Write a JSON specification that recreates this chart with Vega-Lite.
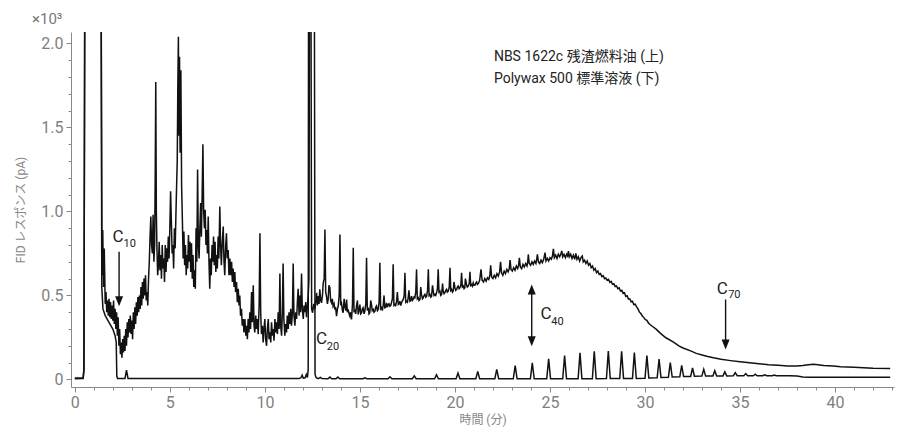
{
"$schema": "https://vega.github.io/schema/vega-lite/v6.json",
"width": 823, "height": 355,
"autosize": {"type": "none"},
"padding": {"left": 71, "top": 32, "right": 7, "bottom": 50},
"title": {"text": "×10³", "anchor": "start", "frame": "group", "dx": -39, "offset": 5, "fontSize": 15, "fontWeight": "normal", "color": "#777", "font": "Roboto"},
"config": {"view": {"stroke": null}, "font": "Roboto",
  "axis": {"domainColor": "#888", "tickColor": "#888", "labelColor": "#808080", "titleColor": "#888", "grid": false, "labelFont": "Roboto", "titleFont": "Roboto, Noto Sans CJK JP", "titleFontWeight": "normal", "labelOverlap": false, "labelFlush": false}},
"datasets": {
"upper": [
{"t":0,"v":0.008},{"t":0.44,"v":0.01},{"t":0.48,"v":0.06},{"t":0.53,"v":2.6},{"t":1.38,"v":2.6},{"t":1.43,"v":0.62},{"t":1.47,"v":0.89},{"t":1.51,"v":0.55},{"t":1.55,"v":0.78},{"t":1.6,"v":0.45},{"t":1.64,"v":0.52},{"t":1.68,"v":0.4},{"t":1.72,"v":0.47},{"t":1.76,"v":0.38},{"t":1.8,"v":0.48},{"t":1.84,"v":0.37},{"t":1.88,"v":0.46},{"t":1.92,"v":0.36},{"t":1.96,"v":0.44},{"t":2.0,"v":0.35},{"t":2.04,"v":0.47},{"t":2.08,"v":0.33},{"t":2.12,"v":0.42},{"t":2.16,"v":0.3},{"t":2.2,"v":0.4},{"t":2.24,"v":0.26},{"t":2.28,"v":0.37},{"t":2.32,"v":0.2},{"t":2.36,"v":0.3},{"t":2.4,"v":0.15},{"t":2.44,"v":0.22},{"t":2.48,"v":0.13},{"t":2.52,"v":0.24},{"t":2.56,"v":0.16},{"t":2.6,"v":0.26},{"t":2.64,"v":0.17},{"t":2.68,"v":0.3},{"t":2.72,"v":0.2},{"t":2.76,"v":0.34},{"t":2.8,"v":0.25},{"t":2.84,"v":0.36},{"t":2.88,"v":0.28},{"t":2.92,"v":0.38},{"t":2.96,"v":0.27},{"t":3.0,"v":0.35},{"t":3.04,"v":0.24},{"t":3.08,"v":0.4},{"t":3.12,"v":0.3},{"t":3.16,"v":0.43},{"t":3.2,"v":0.33},{"t":3.24,"v":0.46},{"t":3.28,"v":0.38},{"t":3.32,"v":0.49},{"t":3.36,"v":0.4},{"t":3.4,"v":0.5},{"t":3.44,"v":0.42},{"t":3.48,"v":0.55},{"t":3.52,"v":0.44},{"t":3.56,"v":0.58},{"t":3.6,"v":0.48},{"t":3.64,"v":0.6},{"t":3.68,"v":0.5},{"t":3.72,"v":0.62},{"t":3.76,"v":0.47},{"t":3.8,"v":0.52},{"t":3.84,"v":0.44},{"t":3.88,"v":0.6},{"t":3.92,"v":0.7},{"t":3.96,"v":0.85},{"t":4.0,"v":0.97},{"t":4.04,"v":0.8},{"t":4.08,"v":0.75},{"t":4.12,"v":0.98},{"t":4.16,"v":0.7},{"t":4.2,"v":0.8},{"t":4.23,"v":1.2},{"t":4.26,"v":1.77},{"t":4.29,"v":1.0},{"t":4.32,"v":0.79},{"t":4.36,"v":0.62},{"t":4.4,"v":0.68},{"t":4.44,"v":0.82},{"t":4.48,"v":0.65},{"t":4.52,"v":0.74},{"t":4.56,"v":0.6},{"t":4.6,"v":0.8},{"t":4.64,"v":0.66},{"t":4.68,"v":0.72},{"t":4.72,"v":0.58},{"t":4.76,"v":0.8},{"t":4.8,"v":0.64},{"t":4.84,"v":0.78},{"t":4.88,"v":0.7},{"t":4.92,"v":0.85},{"t":4.96,"v":0.72},{"t":5.0,"v":0.9},{"t":5.04,"v":1.12},{"t":5.08,"v":0.94},{"t":5.12,"v":0.75},{"t":5.16,"v":0.8},{"t":5.2,"v":0.66},{"t":5.24,"v":0.9},{"t":5.28,"v":0.78},{"t":5.32,"v":0.98},{"t":5.36,"v":1.17},{"t":5.39,"v":1.3},{"t":5.42,"v":1.74},{"t":5.45,"v":2.04},{"t":5.48,"v":1.45},{"t":5.51,"v":1.92},{"t":5.54,"v":1.35},{"t":5.58,"v":1.84},{"t":5.62,"v":1.15},{"t":5.66,"v":0.95},{"t":5.7,"v":0.72},{"t":5.74,"v":0.88},{"t":5.78,"v":0.68},{"t":5.82,"v":0.8},{"t":5.86,"v":0.62},{"t":5.9,"v":0.74},{"t":5.94,"v":0.66},{"t":5.98,"v":0.86},{"t":6.02,"v":0.7},{"t":6.06,"v":0.82},{"t":6.1,"v":0.64},{"t":6.14,"v":0.81},{"t":6.18,"v":0.6},{"t":6.22,"v":0.74},{"t":6.26,"v":0.55},{"t":6.3,"v":0.65},{"t":6.34,"v":0.54},{"t":6.38,"v":0.9},{"t":6.42,"v":0.7},{"t":6.46,"v":1.25},{"t":6.5,"v":0.8},{"t":6.54,"v":0.72},{"t":6.58,"v":0.9},{"t":6.62,"v":1.05},{"t":6.66,"v":0.85},{"t":6.7,"v":1.1},{"t":6.74,"v":1.4},{"t":6.78,"v":1.0},{"t":6.82,"v":0.9},{"t":6.86,"v":1.01},{"t":6.9,"v":0.8},{"t":6.94,"v":0.89},{"t":6.98,"v":0.75},{"t":7.02,"v":0.97},{"t":7.06,"v":0.7},{"t":7.1,"v":0.54},{"t":7.14,"v":0.72},{"t":7.18,"v":0.62},{"t":7.22,"v":0.8},{"t":7.26,"v":0.7},{"t":7.3,"v":0.85},{"t":7.34,"v":0.68},{"t":7.38,"v":0.82},{"t":7.42,"v":0.64},{"t":7.46,"v":0.74},{"t":7.5,"v":0.66},{"t":7.54,"v":0.85},{"t":7.58,"v":0.72},{"t":7.63,"v":1.03},{"t":7.67,"v":0.8},{"t":7.71,"v":0.68},{"t":7.76,"v":0.82},{"t":7.81,"v":0.91},{"t":7.85,"v":0.7},{"t":7.89,"v":0.62},{"t":7.94,"v":0.8},{"t":7.98,"v":0.87},{"t":8.02,"v":0.72},{"t":8.07,"v":0.77},{"t":8.11,"v":0.62},{"t":8.16,"v":0.72},{"t":8.2,"v":0.62},{"t":8.25,"v":0.7},{"t":8.29,"v":0.58},{"t":8.33,"v":0.66},{"t":8.38,"v":0.55},{"t":8.42,"v":0.64},{"t":8.46,"v":0.52},{"t":8.51,"v":0.58},{"t":8.55,"v":0.46},{"t":8.6,"v":0.54},{"t":8.64,"v":0.44},{"t":8.68,"v":0.5},{"t":8.72,"v":0.38},{"t":8.77,"v":0.42},{"t":8.81,"v":0.32},{"t":8.86,"v":0.36},{"t":8.9,"v":0.28},{"t":8.95,"v":0.36},{"t":9.0,"v":0.26},{"t":9.04,"v":0.32},{"t":9.08,"v":0.24},{"t":9.12,"v":0.36},{"t":9.16,"v":0.28},{"t":9.21,"v":0.4},{"t":9.25,"v":0.3},{"t":9.3,"v":0.52},{"t":9.34,"v":0.34},{"t":9.39,"v":0.56},{"t":9.43,"v":0.32},{"t":9.47,"v":0.28},{"t":9.52,"v":0.38},{"t":9.56,"v":0.3},{"t":9.6,"v":0.36},{"t":9.65,"v":0.27},{"t":9.7,"v":0.45},{"t":9.74,"v":0.87},{"t":9.78,"v":0.4},{"t":9.82,"v":0.27},{"t":9.87,"v":0.32},{"t":9.91,"v":0.22},{"t":9.95,"v":0.3},{"t":10.0,"v":0.36},{"t":10.04,"v":0.24},{"t":10.09,"v":0.2},{"t":10.13,"v":0.3},{"t":10.18,"v":0.36},{"t":10.22,"v":0.24},{"t":10.26,"v":0.28},{"t":10.31,"v":0.22},{"t":10.35,"v":0.34},{"t":10.4,"v":0.26},{"t":10.44,"v":0.3},{"t":10.48,"v":0.23},{"t":10.53,"v":0.36},{"t":10.57,"v":0.28},{"t":10.61,"v":0.34},{"t":10.66,"v":0.27},{"t":10.7,"v":0.4},{"t":10.75,"v":0.3},{"t":10.79,"v":0.63},{"t":10.83,"v":0.32},{"t":10.88,"v":0.26},{"t":10.92,"v":0.4},{"t":10.96,"v":0.69},{"t":11.0,"v":0.36},{"t":11.05,"v":0.26},{"t":11.09,"v":0.33},{"t":11.14,"v":0.28},{"t":11.18,"v":0.38},{"t":11.23,"v":0.3},{"t":11.27,"v":0.4},{"t":11.32,"v":0.33},{"t":11.36,"v":0.42},{"t":11.4,"v":0.32},{"t":11.45,"v":0.4},{"t":11.49,"v":0.69},{"t":11.53,"v":0.38},{"t":11.58,"v":0.32},{"t":11.62,"v":0.4},{"t":11.67,"v":0.36},{"t":11.71,"v":0.46},{"t":11.75,"v":0.54},{"t":11.8,"v":0.38},{"t":11.84,"v":0.5},{"t":11.88,"v":0.4},{"t":11.93,"v":0.63},{"t":11.97,"v":0.42},{"t":12.02,"v":0.36},{"t":12.06,"v":0.44},{"t":12.11,"v":0.4},{"t":12.15,"v":0.46},{"t":12.19,"v":0.37},{"t":12.24,"v":0.44},{"t":12.28,"v":0.5},{"t":12.32,"v":0.6},{"t":12.35,"v":2.6},{"t":12.42,"v":2.6},{"t":12.46,"v":0.42},{"t":12.51,"v":0.397},{"t":12.57,"v":0.45},{"t":12.63,"v":0.417},{"t":12.68,"v":0.47},{"t":12.72,"v":0.516},{"t":12.76,"v":0.44},{"t":12.8,"v":0.496},{"t":12.85,"v":0.45},{"t":12.89,"v":0.536},{"t":12.94,"v":0.47},{"t":12.98,"v":0.456},{"t":13.03,"v":0.5},{"t":13.07,"v":0.575},{"t":13.12,"v":0.6},{"t":13.16,"v":0.893},{"t":13.2,"v":0.52},{"t":13.24,"v":0.496},{"t":13.29,"v":0.45},{"t":13.33,"v":0.476},{"t":13.37,"v":0.56},{"t":13.42,"v":0.546},{"t":13.46,"v":0.47},{"t":13.51,"v":0.456},{"t":13.55,"v":0.48},{"t":13.59,"v":0.437},{"t":13.64,"v":0.45},{"t":13.68,"v":0.417},{"t":13.72,"v":0.43},{"t":13.77,"v":0.377},{"t":13.82,"v":0.42},{"t":13.86,"v":0.437},{"t":13.91,"v":0.5},{"t":13.95,"v":0.863},{"t":13.99,"v":0.45},{"t":14.03,"v":0.456},{"t":14.08,"v":0.41},{"t":14.12,"v":0.397},{"t":14.17,"v":0.48},{"t":14.21,"v":0.437},{"t":14.26,"v":0.41},{"t":14.3,"v":0.476},{"t":14.34,"v":0.4},{"t":14.38,"v":0.417},{"t":14.43,"v":0.39},{"t":14.47,"v":0.377},{"t":14.51,"v":0.4},{"t":14.56,"v":0.357},{"t":14.61,"v":0.45},{"t":14.65,"v":0.784},{"t":14.69,"v":0.4},{"t":14.73,"v":0.417},{"t":14.78,"v":0.39},{"t":14.82,"v":0.437},{"t":14.87,"v":0.47},{"t":14.91,"v":0.387},{"t":14.95,"v":0.41},{"t":15.0,"v":0.446},{"t":15.04,"v":0.39},{"t":15.09,"v":0.397},{"t":15.13,"v":0.42},{"t":15.17,"v":0.427},{"t":15.22,"v":0.39},{"t":15.26,"v":0.407},{"t":15.31,"v":0.45},{"t":15.35,"v":0.724},{"t":15.39,"v":0.41},{"t":15.44,"v":0.427},{"t":15.48,"v":0.39},{"t":15.52,"v":0.397},{"t":15.57,"v":0.47},{"t":15.61,"v":0.446},{"t":15.65,"v":0.41},{"t":15.7,"v":0.417},{"t":15.74,"v":0.4},{"t":15.79,"v":0.407},{"t":15.83,"v":0.43},{"t":15.87,"v":0.437},{"t":15.92,"v":0.41},{"t":15.96,"v":0.417},{"t":16.01,"v":0.46},{"t":16.05,"v":0.694},{"t":16.09,"v":0.42},{"t":16.14,"v":0.427},{"t":16.18,"v":0.41},{"t":16.23,"v":0.446},{"t":16.27,"v":0.5},{"t":16.31,"v":0.427},{"t":16.36,"v":0.43},{"t":16.4,"v":0.456},{"t":16.45,"v":0.43},{"t":16.49,"v":0.446},{"t":16.53,"v":0.45},{"t":16.58,"v":0.436},{"t":16.62,"v":0.44},{"t":16.66,"v":0.456},{"t":16.71,"v":0.48},{"t":16.75,"v":0.685},{"t":16.79,"v":0.44},{"t":16.84,"v":0.446},{"t":16.88,"v":0.44},{"t":16.93,"v":0.466},{"t":16.97,"v":0.52},{"t":17.02,"v":0.446},{"t":17.06,"v":0.45},{"t":17.1,"v":0.466},{"t":17.15,"v":0.44},{"t":17.19,"v":0.456},{"t":17.24,"v":0.47},{"t":17.28,"v":0.476},{"t":17.33,"v":0.5},{"t":17.37,"v":0.635},{"t":17.41,"v":0.46},{"t":17.45,"v":0.466},{"t":17.5,"v":0.46},{"t":17.54,"v":0.486},{"t":17.58,"v":0.53},{"t":17.63,"v":0.466},{"t":17.67,"v":0.47},{"t":17.72,"v":0.496},{"t":17.76,"v":0.47},{"t":17.8,"v":0.476},{"t":17.85,"v":0.49},{"t":17.89,"v":0.486},{"t":17.94,"v":0.52},{"t":17.98,"v":0.655},{"t":18.02,"v":0.48},{"t":18.07,"v":0.486},{"t":18.11,"v":0.47},{"t":18.16,"v":0.476},{"t":18.2,"v":0.55},{"t":18.24,"v":0.506},{"t":18.29,"v":0.48},{"t":18.33,"v":0.486},{"t":18.38,"v":0.5},{"t":18.42,"v":0.506},{"t":18.47,"v":0.49},{"t":18.51,"v":0.496},{"t":18.56,"v":0.53},{"t":18.6,"v":0.655},{"t":18.64,"v":0.5},{"t":18.68,"v":0.506},{"t":18.73,"v":0.49},{"t":18.77,"v":0.496},{"t":18.82,"v":0.56},{"t":18.86,"v":0.526},{"t":18.9,"v":0.5},{"t":18.95,"v":0.506},{"t":18.99,"v":0.5},{"t":19.03,"v":0.516},{"t":19.08,"v":0.54},{"t":19.12,"v":0.655},{"t":19.16,"v":0.52},{"t":19.21,"v":0.526},{"t":19.25,"v":0.5},{"t":19.3,"v":0.506},{"t":19.35,"v":0.57},{"t":19.38,"v":0.526},{"t":19.43,"v":0.51},{"t":19.47,"v":0.516},{"t":19.52,"v":0.53},{"t":19.56,"v":0.536},{"t":19.6,"v":0.52},{"t":19.65,"v":0.526},{"t":19.7,"v":0.55},{"t":19.74,"v":0.665},{"t":19.78,"v":0.53},{"t":19.82,"v":0.536},{"t":19.87,"v":0.52},{"t":19.91,"v":0.526},{"t":19.95,"v":0.58},{"t":20.0,"v":0.546},{"t":20.04,"v":0.53},{"t":20.09,"v":0.536},{"t":20.13,"v":0.55},{"t":20.17,"v":0.556},{"t":20.22,"v":0.54},{"t":20.26,"v":0.546},{"t":20.31,"v":0.56},{"t":20.35,"v":0.635},{"t":20.39,"v":0.55},{"t":20.44,"v":0.556},{"t":20.48,"v":0.54},{"t":20.52,"v":0.546},{"t":20.55,"v":0.6},{"t":20.61,"v":0.565},{"t":20.65,"v":0.55},{"t":20.7,"v":0.556},{"t":20.75,"v":0.57},{"t":20.79,"v":0.64},{"t":20.83,"v":0.56},{"t":20.87,"v":0.565},{"t":20.92,"v":0.555},{"t":20.96,"v":0.575},{"t":21.0,"v":0.56},{"t":21.05,"v":0.56},{"t":21.1,"v":0.575},{"t":21.14,"v":0.58},{"t":21.18,"v":0.565},{"t":21.23,"v":0.57},
{"t":21.3,"v":0.59},{"t":21.37,"v":0.655},{"t":21.43,"v":0.59},{"t":21.5,"v":0.58},{"t":21.57,"v":0.6},{"t":21.64,"v":0.585},{"t":21.71,"v":0.605},{"t":21.78,"v":0.595},{"t":21.84,"v":0.62},{"t":21.88,"v":0.68},{"t":21.93,"v":0.61},{"t":22.0,"v":0.6},{"t":22.07,"v":0.62},{"t":22.14,"v":0.605},{"t":22.21,"v":0.63},{"t":22.28,"v":0.615},{"t":22.35,"v":0.64},{"t":22.4,"v":0.7},{"t":22.45,"v":0.635},{"t":22.52,"v":0.62},{"t":22.59,"v":0.645},{"t":22.66,"v":0.63},{"t":22.73,"v":0.655},{"t":22.8,"v":0.64},{"t":22.86,"v":0.66},{"t":22.9,"v":0.71},{"t":22.95,"v":0.655},{"t":23.02,"v":0.645},{"t":23.09,"v":0.665},{"t":23.16,"v":0.65},{"t":23.23,"v":0.675},{"t":23.3,"v":0.66},{"t":23.35,"v":0.68},{"t":23.39,"v":0.724},{"t":23.44,"v":0.67},{"t":23.51,"v":0.66},{"t":23.58,"v":0.685},{"t":23.65,"v":0.67},{"t":23.72,"v":0.69},{"t":23.79,"v":0.675},{"t":23.83,"v":0.7},{"t":23.86,"v":0.744},{"t":23.91,"v":0.69},{"t":23.98,"v":0.68},{"t":24.05,"v":0.7},{"t":24.12,"v":0.685},{"t":24.19,"v":0.705},{"t":24.26,"v":0.69},{"t":24.3,"v":0.715},{"t":24.34,"v":0.745},{"t":24.39,"v":0.7},{"t":24.46,"v":0.69},{"t":24.53,"v":0.71},{"t":24.6,"v":0.695},{"t":24.67,"v":0.715},{"t":24.74,"v":0.755},{"t":24.79,"v":0.705},{"t":24.86,"v":0.72},{"t":24.93,"v":0.705},{"t":25.0,"v":0.725},{"t":25.07,"v":0.715},{"t":25.13,"v":0.735},{"t":25.18,"v":0.777},{"t":25.23,"v":0.725},{"t":25.3,"v":0.74},{"t":25.37,"v":0.72},{"t":25.44,"v":0.745},{"t":25.51,"v":0.73},{"t":25.58,"v":0.75},{"t":25.62,"v":0.765},{"t":25.67,"v":0.73},{"t":25.74,"v":0.745},{"t":25.81,"v":0.725},{"t":25.88,"v":0.745},{"t":25.93,"v":0.735},{"t":25.97,"v":0.764},{"t":26.02,"v":0.73},{"t":26.09,"v":0.745},{"t":26.16,"v":0.72},{"t":26.23,"v":0.74},{"t":26.3,"v":0.715},{"t":26.36,"v":0.75},{"t":26.42,"v":0.715},{"t":26.49,"v":0.73},{"t":26.56,"v":0.705},{"t":26.63,"v":0.725},{"t":26.7,"v":0.735},{"t":26.75,"v":0.7},{"t":26.82,"v":0.71},{"t":26.89,"v":0.69},{"t":26.96,"v":0.705},{"t":27.03,"v":0.68},{"t":27.1,"v":0.69},{"t":27.17,"v":0.665},{"t":27.24,"v":0.675},{"t":27.31,"v":0.65},{"t":27.38,"v":0.66},{"t":27.45,"v":0.635},{"t":27.52,"v":0.645},{"t":27.59,"v":0.625},{"t":27.66,"v":0.63},{"t":27.73,"v":0.612},{"t":27.8,"v":0.618},{"t":27.87,"v":0.6},{"t":27.94,"v":0.604},
{"t":28.01,"v":0.59},{"t":28.08,"v":0.596},{"t":28.15,"v":0.578},{"t":28.22,"v":0.584},{"t":28.29,"v":0.566},{"t":28.36,"v":0.57},{"t":28.43,"v":0.553},{"t":28.5,"v":0.556},{"t":28.57,"v":0.54},{"t":28.64,"v":0.545},{"t":28.71,"v":0.526},{"t":28.78,"v":0.53},{"t":28.85,"v":0.512},{"t":28.92,"v":0.516},{"t":28.99,"v":0.494},{"t":29.06,"v":0.498},{"t":29.13,"v":0.478},{"t":29.2,"v":0.48},{"t":29.27,"v":0.462},{"t":29.34,"v":0.465},{"t":29.41,"v":0.446},{"t":29.48,"v":0.448},{"t":29.56,"v":0.432},{"t":29.63,"v":0.42},{"t":29.7,"v":0.402},{"t":29.78,"v":0.392},{"t":29.86,"v":0.378},{"t":29.94,"v":0.368},{"t":30.02,"v":0.356},{"t":30.1,"v":0.352},{"t":30.18,"v":0.336},{"t":30.26,"v":0.327},{"t":30.4,"v":0.315},{"t":30.6,"v":0.298},{"t":30.8,"v":0.276},{"t":31.1,"v":0.248},{"t":31.5,"v":0.222},{"t":31.8,"v":0.198},{"t":32.0,"v":0.187},{"t":32.4,"v":0.17},{"t":32.7,"v":0.155},{"t":33.0,"v":0.146},{"t":33.3,"v":0.137},{"t":33.6,"v":0.129},{"t":34.0,"v":0.12},{"t":34.5,"v":0.112},{"t":35.0,"v":0.105},{"t":35.5,"v":0.099},{"t":36.0,"v":0.094},{"t":36.5,"v":0.088},{"t":37.0,"v":0.084},{"t":37.5,"v":0.08},{"t":38.0,"v":0.08},{"t":38.3,"v":0.083},{"t":38.6,"v":0.088},{"t":38.86,"v":0.091},{"t":39.1,"v":0.088},{"t":39.4,"v":0.083},{"t":39.9,"v":0.08},{"t":40.3,"v":0.076},{"t":41.0,"v":0.072},{"t":41.5,"v":0.07},{"t":42.0,"v":0.067},{"t":42.9,"v":0.065}
],
"lower": [
{"t":0,"v":0.004},{"t":0.44,"v":0.006},{"t":0.48,"v":0.06},{"t":0.53,"v":2.6},{"t":1.38,"v":2.6},{"t":1.42,"v":0.55},{"t":1.48,"v":0.42},{"t":1.6,"v":0.38},{"t":1.8,"v":0.34},{"t":2.0,"v":0.3},{"t":2.12,"v":0.26},{"t":2.18,"v":0.22},{"t":2.21,"v":0.02},{"t":2.25,"v":0.005},{"t":2.64,"v":0.005},{"t":2.72,"v":0.055},{"t":2.8,"v":0.005},{"t":11.8,"v":0.005},{"t":11.9,"v":0.01},{"t":11.96,"v":0.025},{"t":12.02,"v":0.008},{"t":12.12,"v":0.01},{"t":12.18,"v":0.03},{"t":12.24,"v":0.012},{"t":12.28,"v":0.06},{"t":12.3,"v":2.6},{"t":12.6,"v":2.6},{"t":12.64,"v":0.03},{"t":12.7,"v":0.01},{"t":12.8,"v":0.005},{"t":12.92,"v":0.012},{"t":13.0,"v":0.005},{"t":13.32,"v":0.004},{"t":13.42,"v":0.014},{"t":13.52,"v":0.004},{"t":13.74,"v":0.004},{"t":13.84,"v":0.014},{"t":13.94,"v":0.004},{"t":15.16,"v":0.004},{"t":15.26,"v":0.01},{"t":15.36,"v":0.004},{"t":16.48,"v":0.004},{"t":16.58,"v":0.016},{"t":16.68,"v":0.004},{"t":17.76,"v":0.004},{"t":17.86,"v":0.021},{"t":17.96,"v":0.004},{"t":18.93,"v":0.004},{"t":19.03,"v":0.028},{"t":19.13,"v":0.004},{"t":20.06,"v":0.004},{"t":20.16,"v":0.038},{"t":20.26,"v":0.004},{"t":21.1,"v":0.004},{"t":21.2,"v":0.048},{"t":21.3,"v":0.004},{"t":22.1,"v":0.004},{"t":22.2,"v":0.06},{"t":22.3,"v":0.004},{"t":23.07,"v":0.004},{"t":23.17,"v":0.082},{"t":23.27,"v":0.004},{"t":23.97,"v":0.004},{"t":24.07,"v":0.099},{"t":24.17,"v":0.004},{"t":24.83,"v":0.004},{"t":24.93,"v":0.122},{"t":25.03,"v":0.004},{"t":25.67,"v":0.004},{"t":25.77,"v":0.142},{"t":25.87,"v":0.004},{"t":26.48,"v":0.004},{"t":26.58,"v":0.159},{"t":26.68,"v":0.004},{"t":27.23,"v":0.004},{"t":27.33,"v":0.167},{"t":27.43,"v":0.004},{"t":27.97,"v":0.005},{"t":28.07,"v":0.169},{"t":28.17,"v":0.005},{"t":28.67,"v":0.005},{"t":28.77,"v":0.167},{"t":28.87,"v":0.005},{"t":29.34,"v":0.005},{"t":29.44,"v":0.16},{"t":29.54,"v":0.006},{"t":30.0,"v":0.007},{"t":30.1,"v":0.142},{"t":30.2,"v":0.008},{"t":30.64,"v":0.01},{"t":30.74,"v":0.121},{"t":30.84,"v":0.011},{"t":31.23,"v":0.013},{"t":31.33,"v":0.1},{"t":31.43,"v":0.014},{"t":31.83,"v":0.016},{"t":31.93,"v":0.083},{"t":32.03,"v":0.017},{"t":32.4,"v":0.018},{"t":32.5,"v":0.068},{"t":32.6,"v":0.019},{"t":32.99,"v":0.02},{"t":33.09,"v":0.06},{"t":33.19,"v":0.02},{"t":33.57,"v":0.021},{"t":33.67,"v":0.052},{"t":33.77,"v":0.021},{"t":34.1,"v":0.021},{"t":34.2,"v":0.046},{"t":34.3,"v":0.021},{"t":34.65,"v":0.022},{"t":34.75,"v":0.04},{"t":34.85,"v":0.022},{"t":35.2,"v":0.022},{"t":35.3,"v":0.035},{"t":35.4,"v":0.022},{"t":35.7,"v":0.022},{"t":35.8,"v":0.031},{"t":35.9,"v":0.022},{"t":36.2,"v":0.022},{"t":36.3,"v":0.028},{"t":36.4,"v":0.022},{"t":36.7,"v":0.022},{"t":36.8,"v":0.026},{"t":36.9,"v":0.022},{"t":37.6,"v":0.022},{"t":38.0,"v":0.02},{"t":38.3,"v":0.015},{"t":38.6,"v":0.013},{"t":42.9,"v":0.013}
],
"notes": [{"t":22.05,"v":1.92,"text":"NBS 1622c 残渣燃料油 (上)"},{"t":22.05,"v":1.79,"text":"Polywax 500 標準溶液 (下)"}],
"cmain": [{"t":2.27,"v":0.845,"text":"C"},{"t":12.98,"v":0.238,"text":"C"},{"t":24.79,"v":0.387,"text":"C"},{"t":34.06,"v":0.54,"text":"C"}],
"csub": [{"t":2.89,"v":0.805,"text":"10"},{"t":13.58,"v":0.193,"text":"20"},{"t":25.39,"v":0.34,"text":"40"},{"t":34.7,"v":0.505,"text":"70"}],
"arrows": [{"t":2.33,"v1":0.76,"v2":0.47},{"t":24.04,"v1":0.53,"v2":0.235},{"t":34.24,"v1":0.476,"v2":0.215}],
"headsdown": [{"t":2.33,"v":0.466},{"t":24.04,"v":0.228},{"t":34.24,"v":0.208}],
"headsup": [{"t":24.04,"v":0.536}]
},
"encoding": {
  "x": {"field": "t", "type": "quantitative",
    "scale": {"domain": [-0.2, 43.1], "nice": false, "zero": false},
    "axis": {"title": "時間 (分)", "titleFontSize": 12, "titlePadding": 4,
      "values": [0,1,2,3,4,5,6,7,8,9,10,11,12,13,14,15,16,17,18,19,20,21,22,23,24,25,26,27,28,29,30,31,32,33,34,35,36,37,38,39,40,41,42,43],
      "labelExpr": "datum.value % 5 === 0 ? datum.label : ''",
      "labelFontSize": 16, "labelPadding": 2,
      "tickSize": {"condition": {"test": "datum.value % 5 === 0", "value": 5}, "value": 3}}},
  "y": {"field": "v", "type": "quantitative",
    "scale": {"domain": [-0.045, 2.068], "nice": false, "zero": false},
    "axis": {"title": "FID レスポンス (pA)", "titleFontSize": 12, "titlePadding": 13,
      "values": [0,0.1,0.2,0.3,0.4,0.5,0.6,0.7,0.8,0.9,1.0,1.1,1.2,1.3,1.4,1.5,1.6,1.7,1.8,1.9,2.0],
      "labelExpr": "abs(datum.value*2 - round(datum.value*2)) < 0.001 ? (datum.value === 0 ? '0' : format(datum.value, '.1f')) : ''",
      "labelFontSize": 16, "labelPadding": 3,
      "tickSize": {"condition": {"test": "abs(datum.value*2 - round(datum.value*2)) < 0.001", "value": 5}, "value": 3}}}
},
"layer": [
  {"data": {"name": "lower"}, "mark": {"type": "line", "clip": true, "color": "#111", "strokeWidth": 1.5}},
  {"data": {"name": "upper"}, "mark": {"type": "line", "clip": true, "color": "#111", "strokeWidth": 1.5}},
  {"data": {"name": "arrows"}, "mark": {"type": "rule", "color": "#111", "strokeWidth": 1.4},
    "encoding": {"y": {"field": "v1", "type": "quantitative"}, "y2": {"field": "v2"}}},
  {"data": {"name": "headsdown"}, "mark": {"type": "point", "shape": "M-0.8,-1L0.8,-1L0,1Z", "filled": true, "size": 100, "color": "#111", "opacity": 1, "strokeWidth": 0}},
  {"data": {"name": "headsup"}, "mark": {"type": "point", "shape": "M-0.8,1L0.8,1L0,-1Z", "filled": true, "size": 100, "color": "#111", "opacity": 1, "strokeWidth": 0}},
  {"data": {"name": "cmain"}, "mark": {"type": "text", "fontSize": 17, "color": "#222", "align": "center", "baseline": "middle", "font": "Roboto"},
    "encoding": {"text": {"field": "text"}}},
  {"data": {"name": "csub"}, "mark": {"type": "text", "fontSize": 11, "color": "#222", "align": "center", "baseline": "middle", "font": "Roboto"},
    "encoding": {"text": {"field": "text"}}},
  {"data": {"name": "notes"}, "mark": {"type": "text", "fontSize": 14, "color": "#222", "align": "left", "baseline": "middle", "font": "Roboto, Noto Sans CJK JP"},
    "encoding": {"text": {"field": "text"}}}
]
}
